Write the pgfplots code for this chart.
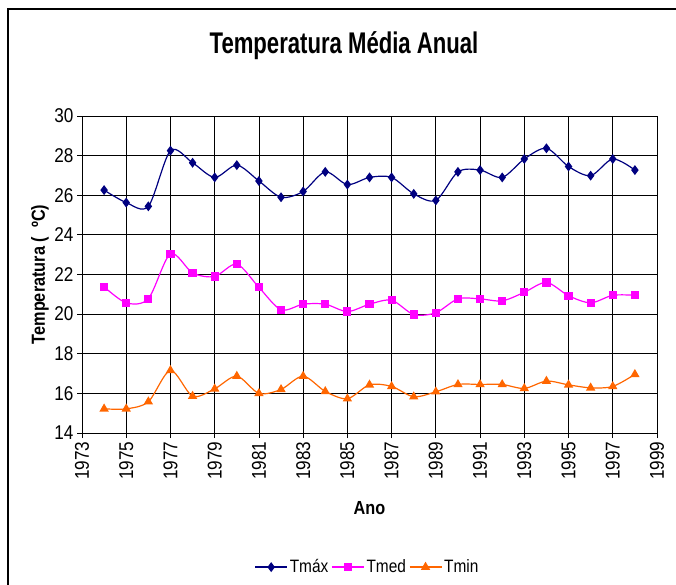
\documentclass[border=0pt]{standalone}
\usepackage{fontspec}
\setmainfont[FakeStretch=0.86]{Liberation Sans}
\newfontfamily\titlefont[FakeStretch=0.74]{Liberation Sans}
\usepackage{pgfplots}
\pgfplotsset{compat=1.18}
\definecolor{tmax}{HTML}{000080}
\definecolor{tmed}{HTML}{FF00FF}
\definecolor{tmin}{HTML}{FF6600}

\pgfplotstableread{
ano  tmax  tmed  tmin
1974 26.26 21.38 15.22
1975 25.63 20.57 15.22
1976 25.44 20.78 15.58
1977 28.25 23.04 17.16
1978 27.64 22.08 15.86
1979 26.90 21.90 16.23
1980 27.52 22.52 16.87
1981 26.72 21.35 16.00
1982 25.90 20.22 16.20
1983 26.19 20.50 16.87
1984 27.18 20.50 16.10
1985 26.54 20.13 15.73
1986 26.90 20.50 16.43
1987 26.90 20.70 16.35
1988 26.07 19.98 15.83
1989 25.74 20.07 16.08
1990 27.18 20.77 16.45
1991 27.27 20.77 16.45
1992 26.90 20.67 16.45
1993 27.83 21.10 16.25
1994 28.37 21.60 16.62
1995 27.45 20.93 16.43
1996 26.99 20.57 16.28
1997 27.83 20.95 16.35
1998 27.27 20.95 16.96
}\dados

\begin{document}
\begin{tikzpicture}
\path[use as bounding box] (-82bp,-152bp) rectangle (594bp,433bp);
\draw[line width=1.6bp, black] (-74bp,-170bp) -- (-74bp,424bp) -- (610bp,424bp);
\begin{axis}[
  scale only axis, width=575bp, height=317bp,
  xmin=1973, xmax=1999, ymin=14, ymax=30,
  xtick={1973,1975,...,1999}, ytick distance=2,
  grid=major, major grid style={black, line width=0.8bp},
  axis line style={black, line width=0.9bp},
  tick style={black, line width=0.8bp},
  tick align=outside, major tick length=5bp,
  xtick pos=left, ytick pos=left,
  /pgf/number format/1000 sep={},
  /pgf/number format/assume math mode=true,
  tick label style={font=\fontsize{20}{22}\selectfont},
  xticklabel style={rotate=90, anchor=east},
  xlabel={Ano}, ylabel={Temperatura (\ \ ºC)},
  label style={font=\bfseries\fontsize{19}{21}\selectfont},
  xlabel style={at={(axis description cs:0.5,-0.2366)}, anchor=center},
  ylabel style={at={(axis description cs:-0.073,0.5)}, anchor=center},
  legend columns=3,
  legend style={at={(axis description cs:0.4965,-0.423)}, anchor=center, draw=none,
    font=\fontsize{18}{20}\selectfont, inner xsep=0pt,
    /tikz/every odd column/.append style={column sep=0bp},
    /tikz/every even column/.append style={column sep=1bp}},
  legend image code/.code={
    \draw[#1, mark repeat=2, mark phase=2] plot coordinates {(0bp,0bp) (16bp,0bp) (32bp,0bp)};
  },
]
\addplot[tmax, line width=1.2bp, smooth, tension=0.5, mark=diamond*, mark size=4bp, mark options={solid, fill=tmax}] table[x=ano, y=tmax]{\dados};
\addplot[tmed, line width=1.2bp, smooth, tension=0.5, mark=square*, mark size=3.5bp, mark options={solid, fill=tmed}] table[x=ano, y=tmed]{\dados};
\addplot[tmin, line width=1.2bp, smooth, tension=0.5, mark=triangle*, mark size=4.2bp, mark options={solid, fill=tmin}] table[x=ano, y=tmin]{\dados};
\legend{Tmáx, Tmed, Tmin}
\end{axis}
\node[font=\titlefont\bfseries\fontsize{30}{32}\selectfont] at (262bp,387bp) {Temperatura Média Anual};
\end{tikzpicture}
\end{document}
